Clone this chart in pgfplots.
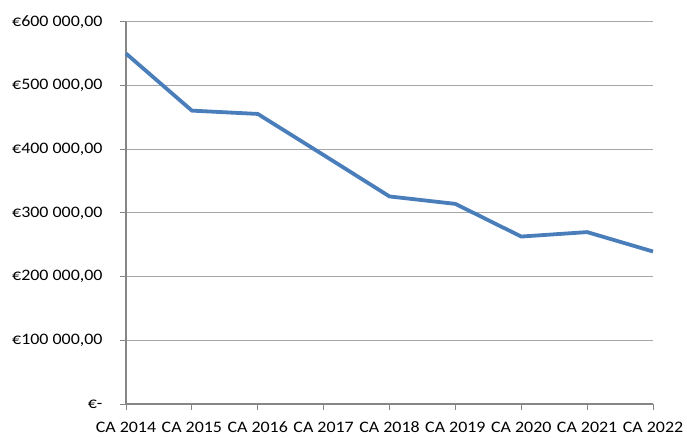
\documentclass[border=0pt]{standalone}
\usepackage{fontspec}
\setmainfont{Carlito}[FakeStretch=1.12]
\usepackage{pgfplots}
\pgfplotsset{compat=1.18}
\definecolor{linecol}{HTML}{4A7EBB}
\definecolor{gridcol}{HTML}{A6A6A6}
\definecolor{axcol}{HTML}{868686}
\begin{document}
\begin{tikzpicture}
\begin{axis}[
  scale only axis,
  width=527pt, height=382pt,
  xmin=0, xmax=8, ymin=0, ymax=600000,
  scaled ticks=false,
  axis x line=bottom, axis y line=left,
  axis line style={axcol, line width=1.5pt, -},
  xtick={0,...,8},
  xticklabels={CA 2014,CA 2015,CA 2016,CA 2017,CA 2018,CA 2019,CA 2020,CA 2021,CA 2022},
  ytick={0,100000,200000,300000,400000,500000,600000},
  yticklabels={{\texteuro-},{\texteuro100 000,00},{\texteuro200 000,00},{\texteuro300 000,00},{\texteuro400 000,00},{\texteuro500 000,00},{\texteuro600 000,00}},
  tick align=outside,
  major tick length=6pt,
  tick style={axcol, line width=1pt},
  ymajorgrids,
  grid style={gridcol, line width=1pt},
  tick label style={font=\fontsize{16}{18}\selectfont, text=black},
  xticklabel style={anchor=base, yshift=-22pt},
  yticklabel style={xshift=-14pt},
  clip=false,
]
\coordinate (sw) at (rel axis cs:0,0);
\coordinate (ne) at (rel axis cs:1,1);
\addplot[linecol, line width=3.8pt, line join=round, mark=none] coordinates {
  (0,550500) (1,460800) (2,455600) (3,391000) (4,326000)
  (5,314300) (6,263000) (7,270000) (8,239500)
};
\end{axis}
\pgfresetboundingbox
\path[use as bounding box] ([shift={(-126pt,-33pt)}]sw) rectangle ([shift={(34pt,22pt)}]ne);
\end{tikzpicture}
\end{document}
